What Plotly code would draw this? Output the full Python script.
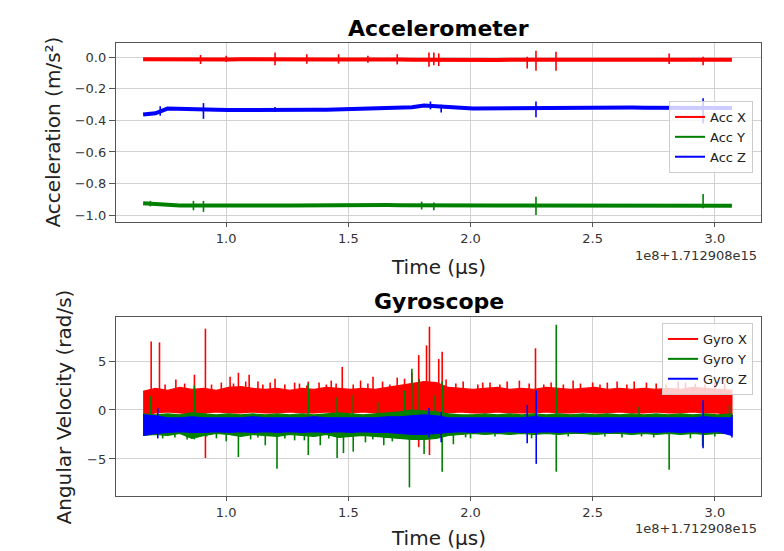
import plotly.graph_objects as go

# ---------------- data (time in units of 1e8 µs, offset 1.712908e15) ----------------
t = [0.66, 0.71, 0.76, 0.81, 0.86, 0.91, 0.96, 1.01, 1.06, 1.11, 1.16, 1.21, 1.26, 1.31,
     1.36, 1.41, 1.46, 1.51, 1.56, 1.61, 1.66, 1.71, 1.76, 1.81, 1.86, 1.91, 1.96, 2.01,
     2.06, 2.11, 2.16, 2.21, 2.26, 2.31, 2.36, 2.41, 2.46, 2.51, 2.56, 2.61, 2.66, 2.71,
     2.76, 2.81, 2.86, 2.91, 2.96, 3.01, 3.07]

# Accelerometer (m/s^2) — band centres
acc_x = [-0.012, -0.013, -0.012, -0.013, -0.012, -0.013, -0.012, -0.013, -0.012, -0.013,
         -0.012, -0.013, -0.012, -0.013, -0.012, -0.013, -0.013, -0.012, -0.013, -0.014,
         -0.013, -0.014, -0.015, -0.016, -0.017, -0.019, -0.020, -0.019, -0.018, -0.017,
         -0.016, -0.016, -0.016, -0.016, -0.017, -0.016, -0.016, -0.016, -0.017, -0.016,
         -0.016, -0.015, -0.016, -0.015, -0.016, -0.016, -0.015, -0.016, -0.015]
acc_y = [-0.925, -0.930, -0.940, -0.940, -0.939, -0.940, -0.940, -0.939, -0.940, -0.940,
         -0.939, -0.940, -0.940, -0.939, -0.939, -0.940, -0.939, -0.938, -0.938, -0.938,
         -0.937, -0.938, -0.939, -0.939, -0.940, -0.941, -0.941, -0.940, -0.940, -0.940,
         -0.940, -0.940, -0.940, -0.940, -0.941, -0.941, -0.941, -0.941, -0.941, -0.941,
         -0.941, -0.941, -0.941, -0.941, -0.941, -0.941, -0.941, -0.941, -0.941]
acc_z = [-0.362, -0.355, -0.325, -0.328, -0.330, -0.336, -0.333, -0.334, -0.333, -0.334,
         -0.333, -0.334, -0.333, -0.333, -0.332, -0.333, -0.331, -0.331, -0.330, -0.328,
         -0.325, -0.322, -0.316, -0.305, -0.312, -0.314, -0.320, -0.325, -0.324, -0.324,
         -0.324, -0.323, -0.323, -0.322, -0.322, -0.320, -0.318, -0.316, -0.316, -0.317,
         -0.318, -0.319, -0.320, -0.321, -0.321, -0.320, -0.320, -0.320, -0.321]

# Accelerometer spikes (time, low, high)
ax_sp_t = [0.895, 1.0, 1.2, 1.33, 1.46, 1.58, 1.7, 1.83, 1.85, 1.87, 2.232, 2.268, 2.35, 2.813, 2.952]
ax_sp_lo = [-0.042, -0.03, -0.05, -0.04, -0.04, -0.035, -0.045, -0.06, -0.05, -0.055, -0.07, -0.085, -0.085, -0.042, -0.05]
ax_sp_hi = [0.015, 0.01, 0.03, 0.02, 0.02, 0.01, 0.02, 0.03, 0.03, 0.025, 0.004, 0.042, 0.035, 0.025, 0.004]
ay_sp_t = [0.69, 0.866, 0.907, 1.8, 1.85, 2.268, 2.952]
ay_sp_lo = [-0.945, -0.97, -0.98, -0.965, -0.97, -1.0, -0.957]
ay_sp_hi = [-0.91, -0.91, -0.91, -0.915, -0.92, -0.884, -0.867]
az_sp_t = [0.73, 0.907, 1.2, 1.836, 1.88, 2.268, 2.952]
az_sp_lo = [-0.37, -0.39, -0.345, -0.33, -0.35, -0.38, -0.42]
az_sp_hi = [-0.31, -0.29, -0.315, -0.28, -0.30, -0.28, -0.26]

# Gyroscope (rad/s) — band upper / lower edges
gx_hi = [1.9, 2.2, 2.0, 2.3, 2.1, 2.2, 2.0, 2.3, 2.4, 2.2, 2.1, 2.2, 2.0, 2.2, 2.1, 2.3, 2.2,
         2.1, 2.2, 2.1, 2.3, 2.5, 2.7, 2.9, 2.8, 2.3, 2.2, 2.1, 2.2, 2.3, 2.1, 2.2, 2.1, 2.3,
         2.2, 2.1, 2.2, 2.3, 2.1, 2.2, 2.1, 2.2, 2.1, 2.2, 2.1, 2.3, 2.2, 2.1, 2.0]
gx_lo = [-0.5, -0.3, -0.2, -0.3, -0.4, -0.3, -0.2, -0.3, -0.3, -0.2, -0.3, -0.3, -0.2, -0.3,
         -0.3, -0.2, -0.3, -0.3, -0.2, -0.3, -0.3, -0.5, -0.7, -0.8, -0.6, -0.3, -0.2, -0.3,
         -0.3, -0.2, -0.3, -0.3, -0.3, -0.2, -0.3, -0.3, -0.2, -0.3, -0.3, -0.2, -0.3, -0.3,
         -0.2, -0.3, -0.3, -0.2, -0.3, -0.3, -0.5]
gy_hi = [-0.4, -0.5, -0.4, -0.5, -0.3, -0.4, -0.5, -0.4, -0.5, -0.4, -0.5, -0.4, -0.5, -0.4,
         -0.5, -0.4, -0.3, -0.4, -0.5, -0.4, -0.3, -0.2, 0.0, -0.1, -0.2, -0.4, -0.5, -0.5, -0.4,
         -0.5, -0.4, -0.5, -0.4, -0.5, -0.4, -0.5, -0.4, -0.5, -0.4, -0.5, -0.4, -0.5, -0.4,
         -0.5, -0.4, -0.5, -0.4, -0.5, -0.4]
gy_lo = [-2.6, -2.5, -2.6, -2.4, -2.9, -2.6, -2.4, -2.5, -2.7, -2.5, -2.6, -2.7, -2.5, -2.6,
         -2.7, -2.5, -2.8, -2.7, -2.6, -2.7, -2.8, -2.9, -3.0, -3.0, -2.9, -2.6, -2.5, -2.4,
         -2.5, -2.4, -2.5, -2.4, -2.5, -2.4, -2.5, -2.4, -2.4, -2.5, -2.4, -2.4, -2.5, -2.4,
         -2.5, -2.4, -2.5, -2.4, -2.5, -2.4, -2.4]
gz_hi = [-0.5, -0.6, -0.8, -0.8, -0.7, -0.8, -0.8, -0.8, -0.8, -0.7, -0.8, -0.8, -0.8, -0.8,
         -0.7, -0.8, -0.8, -0.8, -0.8, -0.8, -0.7, -0.7, -0.6, -0.5, -0.6, -0.8, -0.8, -0.8,
         -0.8, -0.8, -0.8, -0.8, -0.7, -0.8, -0.8, -0.8, -0.8, -0.8, -0.8, -0.8, -0.8, -0.8,
         -0.8, -0.8, -0.8, -0.8, -0.7, -0.8, -0.8]
gz_lo = [-2.6, -2.4, -2.3, -2.2, -2.3, -2.3, -2.2, -2.3, -2.2, -2.3, -2.2, -2.3, -2.2, -2.3,
         -2.2, -2.3, -2.2, -2.3, -2.2, -2.3, -2.3, -2.4, -2.5, -2.5, -2.4, -2.3, -2.2, -2.3,
         -2.2, -2.3, -2.2, -2.3, -2.3, -2.2, -2.3, -2.2, -2.3, -2.2, -2.3, -2.2, -2.3, -2.2,
         -2.3, -2.2, -2.3, -2.2, -2.3, -2.2, -2.6]

# Gyroscope spikes (time, low, high)
gx_sp_t = [0.693, 0.727, 0.794, 0.87, 0.915, 0.98, 1.016, 1.05, 1.094, 1.13, 1.2, 1.28, 1.336,
           1.43, 1.475, 1.55, 1.601, 1.70, 1.76, 1.788, 1.82, 1.832, 1.87, 1.884, 1.97, 2.08,
           2.2, 2.266, 2.42, 2.5, 2.6, 2.72, 2.85, 2.92, 3.0]
gx_sp_hi = [7.0, 6.9, 3.1, 3.6, 8.3, 2.8, 3.4, 3.8, 3.6, 2.9, 3.2, 2.8, 2.9, 3.0, 4.4, 3.0, 3.4,
            3.3, 3.8, 5.6, 6.6, 8.5, 5.2, 5.95, 2.9, 2.8, 3.0, 6.3, 3.0, 2.8, 2.9, 2.8, 2.9, 2.7, 2.8]
gx_sp_lo = [1.0, 1.0, 1.0, 1.0, -4.9, 1.0, 1.0, 1.0, 1.0, 1.0, 1.0, 1.0, 1.0, 1.0, 1.0, 1.0, 1.0,
            1.0, 1.0, -3.8, 1.0, -4.6, 1.0, 1.0, 1.0, 1.0, 1.0, 1.0, 1.0, 1.0, 1.0, 1.0, 1.0, 1.0, 1.0]
# small noise teeth on the top edge of Gyro X (base at 1.0)
gx_teeth_t = [0.75, 0.83, 0.94, 1.03, 1.08, 1.15, 1.18, 1.24, 1.30, 1.33, 1.38, 1.41, 1.45,
              1.52, 1.58, 1.64, 1.67, 1.73, 1.90, 1.94, 2.03, 2.05, 2.12, 2.15, 2.24, 2.30,
              2.33, 2.38, 2.45, 2.53, 2.56, 2.64, 2.67, 2.76, 2.80, 2.88, 2.96, 3.04]
gx_teeth_hi = [2.6, 2.7, 2.6, 2.7, 2.9, 2.6, 2.8, 2.6, 2.7, 2.5, 2.8, 2.6, 2.7, 2.6, 2.7, 2.9,
               2.6, 3.2, 3.1, 2.7, 2.6, 2.8, 2.6, 2.9, 2.7, 2.6, 2.8, 2.6, 2.7, 2.6, 2.8, 2.6,
               2.9, 2.7, 2.6, 2.8, 2.6, 2.7]
gy_sp_t = [0.69, 0.87, 0.92, 1.0, 1.05, 1.16, 1.208, 1.28, 1.336, 1.385, 1.454, 1.48, 1.52, 1.57,
           1.62, 1.645, 1.73, 1.75, 1.76, 1.79, 1.81, 1.85, 1.884, 1.93, 2.0, 2.351, 2.69, 2.813,
           2.95, 3.06]
gy_sp_lo = [-1.0, -3.0, -2.7, -3.2, -4.8, -3.6, -6.0, -3.1, -4.6, -3.6, -4.9, -4.4, -4.25, -3.3,
            -1.0, -3.6, -1.0, -7.9, -1.0, -1.0, -4.5, -1.0, -6.3, -3.5, -2.9, -6.3, -1.0, -6.1,
            -3.7, -1.0]
gy_sp_hi = [1.4, 2.5, -1.0, -1.0, -1.0, -1.0, -1.0, -1.0, 2.7, -1.0, 1.3, -1.0, 1.5, -1.0,
            0.8, -1.0, 2.0, -1.0, 4.2, 3.2, -1.0, 1.5, 2.9, -1.0, -1.0, 8.7, 0.3, -1.0, -1.0, 0.5]
# small noise teeth on the bottom edge of Gyro Y (top at -1.0)
gy_teeth_t = [0.74, 0.79, 0.84, 0.96, 1.10, 1.13, 1.24, 1.32, 1.42, 1.60, 1.68, 1.98, 2.10,
              2.25, 2.40, 2.55, 2.62, 2.70, 2.75, 2.90, 3.00]
gy_teeth_lo = [-2.9, -2.8, -3.0, -2.9, -3.0, -2.8, -2.9, -3.1, -2.9, -3.0, -3.2, -2.8, -2.7,
               -2.9, -2.7, -2.7, -2.8, -2.7, -2.8, -2.9, -2.7]
gz_sp_t = [0.72, 1.83, 1.88, 2.232, 2.269, 2.952, 3.07]
gz_sp_lo = [-2.9, -2.8, -3.3, -3.4, -5.5, -3.9, -2.8]
gz_sp_hi = [0.2, 0.2, -0.2, 0.5, 2.0, 1.0, -0.5]

acc_names = ["Acc X", "Acc Y", "Acc Z"]
gyro_names = ["Gyro X", "Gyro Y", "Gyro Z"]
colors = ["#ff0000", "#008000", "#0000ff"]

x_ticks = [1.0, 1.5, 2.0, 2.5, 3.0]
acc_ticks = [0.0, -0.2, -0.4, -0.6, -0.8, -1.0]
gyro_ticks = [5, 0, -5]
offset_text = "1e8+1.712908e15"


def spike_xy(ts, los, his):
    xs, ys = [], []
    for a, lo, hi in zip(ts, los, his):
        xs += [a, a, None]
        ys += [lo, hi, None]
    return xs, ys


fig = go.Figure()

# ---------------- accelerometer ----------------
acc_series = [(acc_x, ax_sp_t, ax_sp_lo, ax_sp_hi),
              (acc_y, ay_sp_t, ay_sp_lo, ay_sp_hi),
              (acc_z, az_sp_t, az_sp_lo, az_sp_hi)]
for (vals, st, slo, shi), name, col in zip(acc_series, acc_names, colors):
    fig.add_trace(go.Scatter(x=t, y=vals, mode="lines", line=dict(color=col, width=4),
                             showlegend=False, hoverinfo="skip", xaxis="x", yaxis="y"))
    sx, sy = spike_xy(st, slo, shi)
    fig.add_trace(go.Scatter(x=sx, y=sy, mode="lines", line=dict(color=col, width=1.6),
                             showlegend=False, hoverinfo="skip", xaxis="x", yaxis="y"))
    fig.add_trace(go.Scatter(x=[None], y=[None], mode="lines", name=name,
                             line=dict(color=col, width=2), xaxis="x", yaxis="y",
                             legend="legend"))

# ---------------- gyroscope ----------------
gyro_series = [
    (gx_hi, gx_lo, gx_sp_t + gx_teeth_t, gx_sp_lo + [1.0] * len(gx_teeth_t), gx_sp_hi + gx_teeth_hi),
    (gy_hi, gy_lo, gy_sp_t + gy_teeth_t, gy_sp_lo + gy_teeth_lo, gy_sp_hi + [-1.0] * len(gy_teeth_t)),
    (gz_hi, gz_lo, gz_sp_t, gz_sp_lo, gz_sp_hi),
]
for (hi, lo, st, slo, shi), name, col in zip(gyro_series, gyro_names, colors):
    fig.add_trace(go.Scatter(x=t + t[::-1], y=hi + lo[::-1], mode="lines", fill="toself",
                             fillcolor=col, line=dict(color=col, width=1.2),
                             showlegend=False, hoverinfo="skip", xaxis="x2", yaxis="y2"))
    sx, sy = spike_xy(st, slo, shi)
    fig.add_trace(go.Scatter(x=sx, y=sy, mode="lines", line=dict(color=col, width=1.6),
                             showlegend=False, hoverinfo="skip", xaxis="x2", yaxis="y2"))
    fig.add_trace(go.Scatter(x=[None], y=[None], mode="lines", name=name,
                             line=dict(color=col, width=2), xaxis="x2", yaxis="y2",
                             legend="legend2"))

axis_common = dict(showline=True, mirror=True, linecolor="#555555", linewidth=1.3,
                   ticks="outside", ticklen=4, tickwidth=1.2, tickcolor="#555555",
                   showgrid=True, gridcolor="#d2d2d2", gridwidth=1, zeroline=False,
                   tickfont=dict(family="DejaVu Sans", size=13, color="#333333"))

x_range = [0.549, 3.189]
fig.update_layout(
    width=784, height=551,
    margin=dict(l=116, r=23, t=43, b=55),
    paper_bgcolor="white", plot_bgcolor="white",
    font=dict(family="DejaVu Sans", color="#222222"),
    xaxis=dict(axis_common, domain=[0, 1], anchor="y", range=x_range,
               tickvals=x_ticks, tickformat=".1f"),
    yaxis=dict(axis_common, domain=[0.6049, 1], anchor="x", range=[-1.044, 0.091],
               tickvals=acc_ticks, tickformat=".1f", ticklen=6),
    xaxis2=dict(axis_common, domain=[0, 1], anchor="y2", range=x_range,
                tickvals=x_ticks, tickformat=".1f"),
    yaxis2=dict(axis_common, domain=[0, 0.3951], anchor="x2", range=[-8.78, 9.49],
                tickvals=gyro_ticks, tickformat="d", ticklen=6),
    legend=dict(x=0.9876, xanchor="right", y=0.872, yanchor="top",
                bgcolor="rgba(255,255,255,0.8)", bordercolor="#cccccc", borderwidth=1,
                font=dict(family="DejaVu Sans", size=13, color="#222222"),
                tracegroupgap=0),
    legend2=dict(x=0.9876, xanchor="right", y=0.3819, yanchor="top",
                 bgcolor="rgba(255,255,255,0.8)", bordercolor="#cccccc", borderwidth=1,
                 font=dict(family="DejaVu Sans", size=13, color="#222222"),
                 tracegroupgap=0),
    showlegend=True,
)

ann = []
ann.append(dict(text="<b>Accelerometer</b>", x=0.5, y=1.0331, font=dict(size=22, color="#000000")))
ann.append(dict(text="<b>Gyroscope</b>", x=0.5, y=0.4283, font=dict(size=22, color="#000000")))
ann.append(dict(text="Acceleration (m/s²)", x=-0.0992, y=0.8024, textangle=-90, font=dict(size=20)))
ann.append(dict(text="Angular Velocity (rad/s)", x=-0.0791, y=0.1976, textangle=-90, font=dict(size=20)))
ann.append(dict(text="Time (µs)", x=0.5, y=0.5055, font=dict(size=20)))
ann.append(dict(text="Time (µs)", x=0.5, y=-0.0927, font=dict(size=20)))
ann.append(dict(text=offset_text, x=0.9969, y=0.5320, xanchor="right", font=dict(size=13, color="#333333")))
ann.append(dict(text=offset_text, x=0.9969, y=-0.0710, xanchor="right", font=dict(size=13, color="#333333")))
for a in ann:
    a.setdefault("xanchor", "center")
    a.update(xref="paper", yref="paper", yanchor="middle", showarrow=False)
    a["font"].setdefault("color", "#222222")
    a["font"]["family"] = "DejaVu Sans"
fig.update_layout(annotations=ann)

fig.write_html("out.html")
